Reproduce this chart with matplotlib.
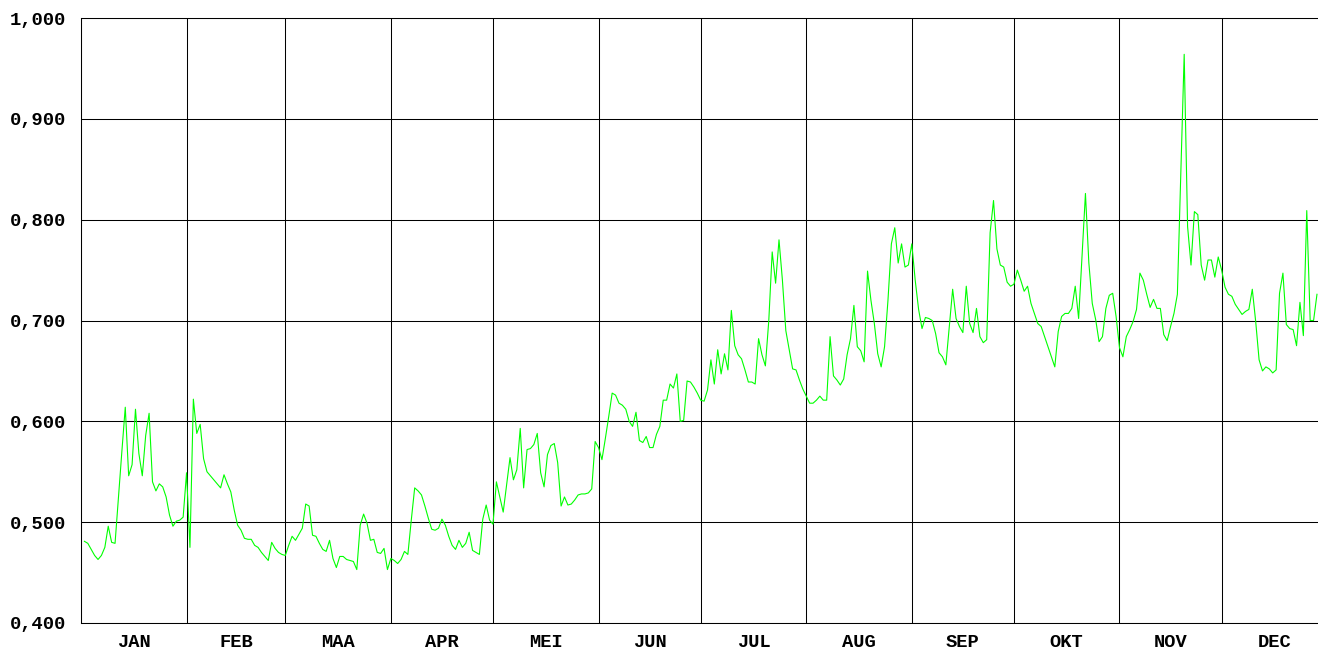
import numpy as np
import matplotlib
matplotlib.use('Agg')
import matplotlib.pyplot as plt

# month labels and lengths (leap year)
months = ['JAN', 'FEB', 'MAA', 'APR', 'MEI', 'JUN', 'JUL', 'AUG', 'SEP', 'OKT', 'NOV', 'DEC']
month_days = [31, 29, 31, 30, 31, 30, 31, 31, 30, 31, 30, 31]

# daily values (starts on day 2 of the year)
jan = [0.481, 0.479, 0.473, 0.467, 0.463, 0.467, 0.475, 0.496, 0.480, 0.479,
       0.525, 0.570, 0.614, 0.546, 0.557, 0.612, 0.568, 0.546, 0.586, 0.608,
       0.540, 0.531, 0.538, 0.535, 0.525, 0.507, 0.496, 0.501, 0.502, 0.505]
feb = [0.549, 0.475, 0.622, 0.588, 0.597, 0.563, 0.550, 0.546, 0.542, 0.538,
       0.534, 0.547, 0.538, 0.530, 0.512, 0.497, 0.492, 0.484, 0.483, 0.483,
       0.477, 0.475, 0.470, 0.466, 0.462, 0.480, 0.474, 0.470, 0.468]
mar = [0.467, 0.477, 0.486, 0.482, 0.488, 0.494, 0.518, 0.516, 0.487, 0.486,
       0.479, 0.473, 0.471, 0.482, 0.464, 0.455, 0.466, 0.466, 0.463, 0.462,
       0.461, 0.453, 0.497, 0.508, 0.499, 0.482, 0.483, 0.470, 0.469, 0.474,
       0.453]
apr = [0.464, 0.462, 0.459, 0.463, 0.471, 0.468, 0.502, 0.534, 0.531, 0.527,
       0.516, 0.504, 0.493, 0.492, 0.494, 0.503, 0.497, 0.486, 0.477, 0.473,
       0.482, 0.475, 0.479, 0.490, 0.472, 0.470, 0.468, 0.503, 0.517, 0.502]
may = [0.498, 0.540, 0.525, 0.510, 0.537, 0.564, 0.542, 0.552, 0.593, 0.534,
       0.572, 0.573, 0.577, 0.588, 0.549, 0.535, 0.567, 0.576, 0.578, 0.559,
       0.516, 0.525, 0.517, 0.518, 0.522, 0.527, 0.528, 0.528, 0.529, 0.533,
       0.580]
jun = [0.574, 0.562, 0.583, 0.605, 0.628, 0.626, 0.618, 0.616, 0.612, 0.600,
       0.595, 0.609, 0.581, 0.579, 0.585, 0.574, 0.574, 0.587, 0.595, 0.621,
       0.621, 0.637, 0.633, 0.647, 0.600, 0.601, 0.640, 0.639, 0.634, 0.628]
jul = [0.621, 0.620, 0.631, 0.661, 0.637, 0.671, 0.647, 0.667, 0.651, 0.710,
       0.675, 0.666, 0.662, 0.651, 0.639, 0.639, 0.637, 0.682, 0.666, 0.655,
       0.700, 0.768, 0.737, 0.780, 0.740, 0.690, 0.671, 0.652, 0.651, 0.641,
       0.632]
aug = [0.625, 0.618, 0.618, 0.621, 0.625, 0.621, 0.621, 0.684, 0.645, 0.641,
       0.636, 0.642, 0.666, 0.682, 0.715, 0.674, 0.670, 0.659, 0.749, 0.720,
       0.697, 0.667, 0.654, 0.674, 0.720, 0.776, 0.792, 0.757, 0.776, 0.753,
       0.755]
sep = [0.776, 0.740, 0.711, 0.692, 0.703, 0.702, 0.700, 0.687, 0.668, 0.664,
       0.656, 0.694, 0.731, 0.702, 0.694, 0.688, 0.734, 0.697, 0.688, 0.712,
       0.684, 0.678, 0.681, 0.787, 0.819, 0.771, 0.755, 0.753, 0.738, 0.734]
okt = [0.736, 0.750, 0.740, 0.729, 0.734, 0.717, 0.707, 0.697, 0.694, 0.684,
       0.674, 0.664, 0.654, 0.689, 0.704, 0.707, 0.707, 0.712, 0.734, 0.702,
       0.764, 0.826, 0.757, 0.717, 0.701, 0.679, 0.684, 0.712, 0.725, 0.727,
       0.704]
nov = [0.673, 0.664, 0.684, 0.691, 0.699, 0.711, 0.747, 0.740, 0.726, 0.713,
       0.721, 0.712, 0.712, 0.686, 0.680, 0.694, 0.707, 0.726, 0.845, 0.964,
       0.793, 0.755, 0.808, 0.805, 0.755, 0.740, 0.760, 0.760, 0.743, 0.763]
dec = [0.750, 0.733, 0.726, 0.724, 0.716, 0.711, 0.706, 0.709, 0.711, 0.731,
       0.699, 0.661, 0.650, 0.654, 0.652, 0.648, 0.651, 0.727, 0.747, 0.696,
       0.692, 0.691, 0.675, 0.718, 0.685, 0.809, 0.700, 0.700, 0.726]

values = jan + feb + mar + apr + may + jun + jul + aug + sep + okt + nov + dec
days = np.arange(1, len(values) + 1)

bounds = np.concatenate([[0], np.cumsum(month_days)])
centers = (bounds[:-1] + bounds[1:]) / 2

yticks = [0.4, 0.5, 0.6, 0.7, 0.8, 0.9, 1.0]
ylabels = [('%.3f' % v).replace('.', ',') for v in yticks]

font = {'family': 'Liberation Mono', 'weight': 'bold', 'size': 13.5}

fig = plt.figure(figsize=(13.18, 6.49), dpi=100)
ax = fig.add_axes([81 / 1318, 26 / 649, 1237 / 1318, 605 / 649])
ax.plot(days, values, color='#00ff00', lw=0.8, zorder=3)

ax.set_xlim(0, len(values) + 0.3)
ax.set_ylim(0.4, 1.0)

ax.set_xticks(bounds[:-1])
ax.set_xticks(centers, minor=True)
ax.set_xticklabels(months, minor=True, fontdict=font)
ax.tick_params(axis='x', which='major', labelbottom=False, length=0)
ax.tick_params(axis='x', which='minor', length=0, pad=8)

ax.set_yticks(yticks)
ax.set_yticklabels(ylabels, fontdict=font)
ax.tick_params(axis='y', length=0, pad=11)

ax.grid(which='major', color='black', lw=0.75)
for s in ['right']:
    ax.spines[s].set_visible(False)
for s in ['left', 'bottom', 'top']:
    ax.spines[s].set_color('black')
    ax.spines[s].set_linewidth(0.75)

fig.savefig('out.png', dpi=100)
